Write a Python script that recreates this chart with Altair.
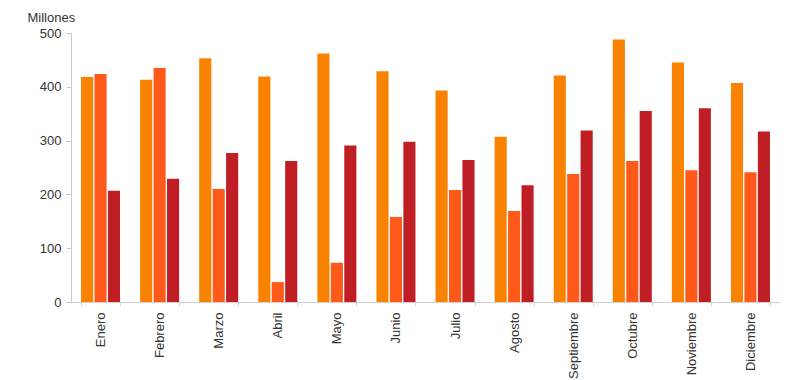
import altair as alt
import pandas as pd

months = ["Enero", "Febrero", "Marzo", "Abril", "Mayo", "Junio", "Julio",
          "Agosto", "Septiembre", "Octubre", "Noviembre", "Diciembre"]
series = ["Serie 1", "Serie 2", "Serie 3"]
s1 = [418, 413, 453, 419, 462, 429, 393, 307, 421, 488, 445, 407]
s2 = [424, 435, 210, 37, 73, 158, 208, 169, 238, 262, 245, 241]
s3 = [207, 229, 277, 262, 291, 298, 264, 217, 319, 355, 360, 317]
colors = ["#F98200", "#FF5A1A", "#BE1E24"]

rows = []
for i, m in enumerate(months):
    for name, vals in zip(series, [s1, s2, s3]):
        rows.append({"mes": m, "serie": name, "valor": vals[i]})
df = pd.DataFrame(rows)

chart = alt.Chart(df).mark_bar().encode(
    x=alt.X("mes:N", sort=months,
            scale=alt.Scale(paddingInner=0.34, paddingOuter=0.17),
            axis=alt.Axis(title=None, labelAngle=270, labelFontSize=13,
                          labelColor="#333333", labelFont="Liberation Sans",
                          labelPadding=6, tickBand="extent", tickSize=4,
                          tickColor="#d8d8d8", domainColor="#d0d0d0")),
    xOffset=alt.XOffset("serie:N", sort=series,
                        scale=alt.Scale(paddingInner=0.1)),
    y=alt.Y("valor:Q", scale=alt.Scale(domain=[0, 500]),
            axis=alt.Axis(title="Millones", titleAngle=0, titleX=-44, titleY=-12,
                          titleAlign="left", titleBaseline="alphabetic",
                          titleFontWeight="normal",
                          titleFontSize=13, titleColor="#333333",
                          titleFont="Liberation Sans",
                          values=[0, 100, 200, 300, 400, 500], grid=False,
                          labelFontSize=13, labelColor="#333333",
                          labelFont="Liberation Sans", labelPadding=5,
                          tickSize=5, tickColor="#c8c8c8",
                          domainColor="#c8c8c8")),
    color=alt.Color("serie:N", sort=series,
                    scale=alt.Scale(domain=series, range=colors), legend=None),
).properties(
    width=709, height=269,
    autosize=alt.AutoSizeParams(type="none"),
    padding={"left": 63, "top": 25, "right": 12, "bottom": 80},
).configure_view(stroke=None)

chart.save("out.html", embed_options={"renderer": "svg", "actions": False})
